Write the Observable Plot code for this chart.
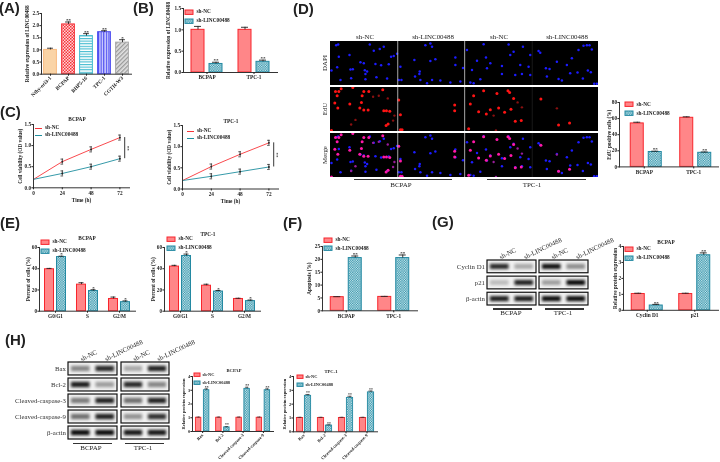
<!DOCTYPE html>
<html><head><meta charset="utf-8">
<script src="https://cdn.jsdelivr.net/npm/d3@7"></script>
<script src="https://cdn.jsdelivr.net/npm/@observablehq/plot@0.6"></script>
<style>
html,body{margin:0;background:#fff;}
#fig{position:relative;width:720px;height:462px;overflow:hidden;background:#fff;filter:blur(0.3px);}
#fig svg{overflow:visible;max-width:none;}
</style></head><body>
<svg width="0" height="0" style="position:absolute">
<defs>
<pattern id="tealCheck" width="2.4" height="2.4" patternUnits="userSpaceOnUse"><rect width="2.4" height="2.4" fill="#2b8ea6"/><rect width="1.2" height="1.2" fill="#d5eef2"/><rect x="1.2" y="1.2" width="1.2" height="1.2" fill="#d5eef2"/></pattern>
<pattern id="redCheck" width="3" height="3" patternUnits="userSpaceOnUse"><rect width="3" height="3" fill="#ffd6d6"/><rect width="1.5" height="1.5" fill="#f5333a"/><rect x="1.5" y="1.5" width="1.5" height="1.5" fill="#f5333a"/></pattern>
<pattern id="cyanH" width="3" height="2.6" patternUnits="userSpaceOnUse"><rect width="3" height="2.6" fill="#fff"/><rect width="3" height="1.1" fill="#45bcd0"/></pattern>
<pattern id="blueV" width="2.6" height="3" patternUnits="userSpaceOnUse"><rect width="2.6" height="3" fill="#d8d8ff"/><rect width="1.2" height="3" fill="#4a4af0"/></pattern>
<pattern id="grayD" width="3" height="3" patternUnits="userSpaceOnUse" patternTransform="rotate(45)"><rect width="3" height="3" fill="#e2e2e2"/><rect width="1.3" height="3" fill="#9a9a9a"/></pattern>
</defs></svg>
<div id="fig"></div>
<script>
const NC="sh-NC", KD="sh-LINC00488";
const SERIF="'Liberation Serif',serif", SANS="'Liberation Sans',sans-serif";
const redFill="#ff8688", redLine="#f8252c", tealLine="#2389a2";

// ---- Panel A
const aCats=["Nthy-ori3-1","BCPAP","BHP5-16","TPC-1","CGTH-W3"];
const aVals=[1.0,2.05,1.57,1.73,1.3];
const aErrs=[0.07,0.1,0.1,0.06,0.12];
const aStars=["","**","**","**","*"];
// ---- Panel B
const bCats=["BCPAP","TPC-1"];
const bNC=[1.0,1.0], bNCe=[0.08,0.06], bKD=[0.2,0.25], bKDe=[0.04,0.04];
// ---- Panel C
const cTimes=[0,24,48,72];
const c1NC=[0.2,0.62,0.91,1.19], c1KD=[0.2,0.34,0.5,0.69];
const c2NC=[0.2,0.53,0.82,1.09], c2KD=[0.2,0.3,0.41,0.52];
const cErr=[0,0.06,0.06,0.06];
// ---- Panel D chart
const dNC=[54,61], dNCe=[1.5,1.2], dKD=[18.5,17.5], dKDe=[1,1];
// ---- Panel E
const eCats=["G0/G1","S","G2/M"];
const e1NC=[39.5,25,11.5], e1NCe=[0.8,1.8,1.8], e1KD=[51,19,8.5], e1KDe=[0.8,1.2,1.2];
const e2NC=[42,24,11.5], e2NCe=[1.2,1.4,0.7], e2KD=[52,18.5,9.5], e2KDe=[1.8,1,1];
// ---- Panel F
const fNC=[5.3,5.4], fNCe=[0.2,0.2], fKD=[20.5,20.5], fKDe=[0.8,1.2];
// ---- Panel G
const gCats=["Cyclin D1","p21"];
const gNC=[1.02,1.02], gNCe=[0.05,0.05], gKD=[0.3,3.45], gKDe=[0.07,0.15];
// ---- Panel H
const hCats=["Bax","Bcl-2","Cleaved-caspase-3","Cleaved-caspase-9"];
const h1NC=[1,1,1,1], h1KD=[3.0,0.3,3.1,3.0], h1KDe=[0.1,0.05,0.12,0.1];
const h2NC=[1,1,1,1], h2KD=[2.6,0.45,2.45,2.85], h2KDe=[0.1,0.05,0.12,0.1];
const hNCe=[0.05,0.05,0.05,0.05];
// ---- Western blot band strengths, [left lane, right lane]
const gRows=["Cyclin D1","p21","β-actin"];
const gBlot1=[[0.85,0.3],[0.22,0.88],[0.9,0.9]];
const gBlot2=[[0.95,0.42],[0.35,0.98],[0.97,0.97]];
const hRows=["Bax","Bcl-2","Cleaved-caspase-3","Cleaved-caspase-9","β-actin"];
const hBlot1=[[0.45,0.85],[0.9,0.35],[0.5,0.88],[0.55,0.88],[0.97,0.97]];
const hBlot2=[[0.3,0.88],[0.85,0.45],[0.55,0.88],[0.4,0.82],[0.92,0.92]];
// ---- Panel D micrographs: cell positions in each field
const dapiCells=[[17,11],[23,9],[118,9],[130,28],[148,23],[160,16],[182,46],[190,44],[200,37],[57,41],[25,46],[90,63],[100,66],[20,78],[60,85],[67,84],[103,87],[110,91],[105,98],[135,68],[152,72],[175,69],[62,111],[30,116],[105,114],[170,112],[138,108],[3,88],
[300,6],[305,16],[285,11],[375,48],[315,54],[300,59],[252,56],[210,76],[268,91],[267,98],[254,106],[375,71],[398,80],[270,116],[305,116],[330,118],[290,126],[205,116],[213,116],[360,124],[390,121],
[410,26],[460,8],[535,9],[578,16],[550,31],[467,48],[440,58],[480,66],[425,86],[470,81],[515,74],[570,71],[595,76],[600,41],[555,101],[575,98],[600,101],[515,98],[450,114],[420,124],[430,126],[540,41],
[625,29],[630,34],[745,26],[760,13],[770,11],[778,11],[785,24],[680,61],[647,81],[658,83],[710,71],[720,96],[742,94],[773,88],[782,93],[685,113],[695,118],[758,112],[725,51],[800,128],[792,128],[650,106]];
const eduBright=[[15,12],[25,12],[32,4],[67,0],[20,25],[100,12],[115,12],[157,7],[95,25],[13,47],[93,45],[22,62],[58,50],[88,62],[100,68],[113,68],[160,70],[168,70],[178,72],[167,115],[173,110],[3,130],
[205,38],[210,82],[373,53],[373,70],[210,128],[215,128],
[460,10],[500,18],[533,10],[538,15],[430,25],[420,50],[550,33],[445,73],[480,67],[505,62],[523,75],[542,66],[468,80],[555,102],[573,100],[415,125],
[632,35],[685,113],[718,107]];
const eduDim=[[128,28],[172,33],[75,98],[62,112],[188,100],[192,85],[145,25],[562,45],[575,60],[490,85],[497,130],[680,63]];

const root=document.getElementById("fig");
function place(el,x,y){el.style.position="absolute";el.style.left=x+"px";el.style.top=y+"px";root.append(el);return el;}
function txt(s,x,y,o={}){
  const d=document.createElement("div");d.textContent=s;
  const a=o.anchor==="start"?"0":o.anchor==="end"?"-100%":"-50%";
  d.style.cssText=`white-space:nowrap;line-height:1;font-family:${o.font||SERIF};font-size:${o.size||5.3}px;font-weight:${o.weight||"bold"};color:${o.color||"#222"};transform:translate(${a},-50%) rotate(${o.rotate||0}deg)`;
  return place(d,x,y);
}
function hbar(x1,x2,y){
  const d=document.createElement("div");d.style.cssText=`width:${x2-x1}px;height:1.4px;background:#333`;
  return place(d,x1,y);
}
const NS="http://www.w3.org/2000/svg";
function swatch(x,y,w,h,fill,stroke){
  const s=document.createElementNS(NS,"svg");s.setAttribute("width",w+2);s.setAttribute("height",h+2);
  const r=document.createElementNS(NS,"rect");
  for(const [k,v] of Object.entries({x:1,y:1,width:w,height:h,fill,stroke,"stroke-width":1}))r.setAttribute(k,v);
  s.append(r);return place(s,x-1,y-h/2-1);
}
function legendBars(x,y1,y2,o={}){
  const w=o.w||8,h=o.h||4.4,tx=x+w+(o.gap||3.5),size=o.size||5.3;
  swatch(x,y1,w,h,redFill,redLine);txt(NC,tx,y1,{anchor:"start",size});
  swatch(x,y2,w,h,"url(#tealCheck)",tealLine);txt(KD,tx,y2,{anchor:"start",size});
}
const baseStyle=s=>({background:"transparent",fontFamily:SERIF,fontWeight:"bold",fontSize:(s||5.3)+"px",color:"#222",overflow:"visible"});

function barChart(c){
  const ml=34,mr=4,mt=14,mb=c.mb||12;
  const marks=[];
  const ins=c.ins, dxs=c.dxs;
  c.series.forEach((s,k)=>{
    const rows=c.cats.map((cat,i)=>({cat,v:s.values[i],top:s.values[i]+s.errs[i],star:s.stars?s.stars[i]:""}));
    const dx=dxs[k];
    if(s.fills){
      rows.forEach((r,i)=>marks.push(Plot.barY([r],{x:"cat",y:"v",dx,insetLeft:ins,insetRight:ins,fill:s.fills[i],stroke:s.strokes[i],strokeWidth:c.sw||1})));
    } else {
      marks.push(Plot.barY(rows,{x:"cat",y:"v",dx,insetLeft:ins,insetRight:ins,fill:s.fill,stroke:s.stroke,strokeWidth:c.sw||1}));
    }
    marks.push(Plot.ruleX(rows,{x:"cat",y1:"v",y2:"top",dx,stroke:"#222",strokeWidth:c.ew||0.9}));
    marks.push(Plot.tickY(rows,{x:"cat",y:"top",dx,insetLeft:ins+(c.cap||3),insetRight:ins+(c.cap||3),stroke:"#222",strokeWidth:c.ew||0.9}));
    marks.push(Plot.text(rows,{x:"cat",y:"top",text:"star",dx,dy:-1.5,fontSize:c.starSize||5,fill:"#222"}));
  });
  const p=Plot.plot({
    width:c.x1-c.x0+ml+mr,height:c.yBase-c.yTop+mt+mb,
    marginLeft:ml,marginRight:mr,marginTop:mt,marginBottom:mb,
    style:baseStyle(c.size),
    x:{domain:c.cats,padding:0,round:false,axis:null},
    y:{domain:[0,c.yMax],axis:null},
    marks:[
      ...marks,
      Plot.frame({anchor:"left",stroke:"#333",strokeWidth:1}),
      Plot.frame({anchor:"bottom",stroke:"#333",strokeWidth:1}),
      Plot.axisY({ticks:c.ticks,tickFormat:c.fmt||(d=>d),tickSize:1.6,tickPadding:0.8,label:c.yLabel,labelAnchor:"center",labelArrow:"none",labelOffset:c.labelOffset||13}),
      c.rot?Plot.axisX({tickSize:2,tickRotate:-45,tickPadding:1,label:null}):Plot.axisX({tickSize:2,tickPadding:1,label:null})
    ]
  });
  place(p,c.x0-ml,c.yTop-mt);
}
function pair(cats,a,ae,b,be,stars){
  return [{name:NC,values:a,errs:ae,fill:redFill,stroke:redLine},
          {name:KD,values:b,errs:be,fill:"url(#tealCheck)",stroke:tealLine,stars:cats.map((_,i)=>stars[i])}];
}
const f1=d3.format(".1f");
const dbl=n=>Array(n).fill("**");

// A
barChart({x0:41,x1:131,yTop:13.3,yBase:74,yMax:2.5,ticks:[0,0.5,1,1.5,2,2.5],fmt:f1,yLabel:"Relative expression of LINC00488",cats:aCats,mb:34,rot:true,ins:2.6,dxs:[0],cap:3.5,labelOffset:16,
 series:[{name:"v",values:aVals,errs:aErrs,stars:aStars,
  fills:["#fad4a6","url(#redCheck)","url(#cyanH)","url(#blueV)","url(#grayD)"],strokes:["#f9bb80","#f5333a","#45bcd0","#4a4af0","#a8a8a8"]}]});
// B
barChart({x0:183,x1:277,yTop:8,yBase:72,yMax:1.5,ticks:[0,0.5,1,1.5],fmt:f1,yLabel:"Relative expression of LINC00488",cats:bCats,ins:17,dxs:[-9,9],labelOffset:17,
 series:pair(bCats,bNC,bNCe,bKD,bKDe,dbl(2))});
legendBars(185,11.7,20.7);

// C
function lineChart(x0,x1,yTop,yBase,nc,kd,title,tx,ty,lx,ly1,ly2){
  const ml=30,mr=6,mt=8,mb=18;
  const rows=(vals,name)=>cTimes.map((t,i)=>({t,v:vals[i],lo:vals[i]-cErr[i],hi:vals[i]+cErr[i],name}));
  const a=rows(nc,NC),b=rows(kd,KD),all=[...a,...b].filter(d=>d.t>0);
  const last=[{t:76,y1:nc[3],y2:kd[3]}];
  const cap=k=>Plot.ruleY(all,{y:k,x1:d=>d.t-1.1,x2:d=>d.t+1.1,stroke:"#222",strokeWidth:0.7});
  const p=Plot.plot({
    width:x1-x0+ml+mr,height:yBase-yTop+mt+mb,marginLeft:ml,marginRight:mr,marginTop:mt,marginBottom:mb,
    style:baseStyle(5.3),
    x:{domain:[0,80],axis:null},y:{domain:[0,1.5],axis:null},
    marks:[
      Plot.line(a,{x:"t",y:"v",stroke:"#f8353a",strokeWidth:0.9}),
      Plot.line(b,{x:"t",y:"v",stroke:"#1f8f9f",strokeWidth:0.9}),
      Plot.ruleX(all,{x:"t",y1:"lo",y2:"hi",stroke:"#222",strokeWidth:0.8}),
      cap("hi"),cap("lo"),
      Plot.dot(all,{x:"t",y:"v",r:0.9,fill:"#222"}),
      Plot.ruleX(last,{x:"t",y1:"y1",y2:"y2",stroke:"#222",strokeWidth:0.9}),
      Plot.text(last,{x:"t",y:d=>(d.y1+d.y2)/2,text:()=>"**",rotate:90,dx:3,fontSize:5}),
      Plot.frame({anchor:"left",stroke:"#333"}),Plot.frame({anchor:"bottom",stroke:"#333"}),
      Plot.axisY({ticks:[0,0.5,1,1.5],tickFormat:f1,tickSize:1.6,tickPadding:0.8,label:"Cell viability (OD value)",labelAnchor:"center",labelArrow:"none",labelOffset:15}),
      Plot.axisX({ticks:cTimes,tickSize:2,tickPadding:1.5,label:"Time (h)",labelAnchor:"center",labelArrow:"none",labelOffset:14,tickFormat:d=>d})
    ]
  });
  place(p,x0-ml,yTop-mt);
  txt(title,tx,ty);
  [[ly1,"#f8353a",NC],[ly2,"#1f8f9f",KD]].forEach(([y,col,n])=>{
    const d=document.createElement("div");d.style.cssText=`width:7px;height:0.9px;background:${col}`;
    place(d,lx,y);txt(n,lx+10,y,{anchor:"start"});
  });
}
lineChart(33,129,124,187.3,c1NC,c1KD,"BCPAP",77,119.5,35,128.3,135);
lineChart(182,278,124.5,188,c2NC,c2KD,"TPC-1",231,122,187,130.7,138);

// D micrographs
function field(y0,y1,layers){
  const p=Plot.plot({
    width:268,height:y1-y0,margin:0,style:{background:"black",overflow:"hidden"},
    x:{domain:[0,805],axis:null},y:{domain:[0,133],range:[0,y1-y0],axis:null},
    marks:[
      ...layers.map(([cells,col,r])=>Plot.dot(cells,{x:d=>d[0],y:d=>d[1],r:r||1.25,fill:col,imageFilter:"blur(0.3px)"})),
      Plot.ruleX([202,403],{stroke:"#bbb",strokeWidth:0.9}),
      Plot.ruleX([606],{stroke:"#333",strokeWidth:0.5})
    ]
  });
  place(p,330,y0);
}
field(41,85,[[dapiCells,"#1c1cff"]]);
field(87,131,[[eduBright,"#ff1414",1.5],[eduDim,"#8a1010",1.2]]);
field(132.5,177,[[dapiCells,"#1c1cff"],[eduBright,"#ff18a8",1.5],[eduDim,"#9a1c9a",1.2]]);
[[NC,365],[KD,433],[NC,499],[KD,567]].forEach(([s,x])=>txt(s,x,37,{size:6.9,weight:"normal"}));
[["DAPI",63],["EdU",109],["Merge",155]].forEach(([s,y])=>txt(s,325,y,{size:6.9,weight:"normal",rotate:-90}));
hbar(354,452,179);hbar(487,586,179);
txt("BCPAP",401,184.5,{size:7,weight:"normal"});txt("TPC-1",532,184.5,{size:7,weight:"normal"});
// D chart
barChart({x0:619,x1:718,yTop:101.6,yBase:166,yMax:80,ticks:[0,20,40,60,80],yLabel:"EdU positive cells (%)",cats:bCats,ins:18.25,dxs:[-7,11],labelOffset:12,
 series:pair(bCats,dNC,dNCe,dKD,dKDe,dbl(2))});
legendBars(625,104.5,113.5);

// E
barChart({x0:39,x1:135,yTop:247,yBase:310.7,yMax:60,ticks:[0,20,40,60],yLabel:"Percent of cells (%)",cats:eCats,ins:11.5,dxs:[-6,6],cap:2,labelOffset:13,
 series:pair(eCats,e1NC,e1NCe,e1KD,e1KDe,["*","*","*"])});
legendBars(41,242,250.7);txt("BCPAP",87,239);
barChart({x0:164,x1:260,yTop:247,yBase:310.7,yMax:60,ticks:[0,20,40,60],yLabel:"Percent of cells (%)",cats:eCats,ins:11.5,dxs:[-6,6],cap:2,labelOffset:13,
 series:pair(eCats,e2NC,e2NCe,e2KD,e2KDe,["*","*","*"])});
legendBars(167,238.7,247.7);txt("TPC-1",208,235);
// F
barChart({x0:322,x1:417,yTop:245.7,yBase:310,yMax:25,ticks:[0,5,10,15,20,25],yLabel:"Apoptosis (%)",cats:bCats,ins:17.25,dxs:[-9,9],labelOffset:15,
 series:pair(bCats,fNC,fNCe,fKD,fKDe,dbl(2))});
legendBars(324,240,248.5);

// Blots
function blot(x0,x1,y0,y1,rows,bands,pad,showRows){
  const fs=6.8,ml=showRows?70:1,mr=1,mt=30,mb=1;
  const cells=rows.flatMap((r,i)=>[0,1].map(l=>({row:r,lane:l,s:bands[i][l]})));
  const p=Plot.plot({
    width:x1-x0+ml+mr,height:y1-y0+mt+mb,marginLeft:ml,marginRight:mr,marginTop:mt,marginBottom:mb,
    style:{background:"transparent",fontFamily:SERIF,fontSize:fs+"px",color:"#333",overflow:"visible"},
    x:{domain:[0,2],axis:null},
    y:{domain:rows,paddingInner:pad,paddingOuter:0,round:false,axis:null},
    marks:[
      Plot.barX(rows,{x1:()=>0,x2:()=>2,y:d=>d,fill:"#f2f2f2"}),
      Plot.barX(cells,{x1:d=>d.lane+0.12,x2:d=>d.lane+0.88,y:"row",fill:"#000",fillOpacity:"s",insetTop:3.8,insetBottom:3.8,imageFilter:"blur(1.4px)"}),
      Plot.barX(rows,{x1:()=>0,x2:()=>2,y:d=>d,fill:"none",stroke:"#111",strokeWidth:1.2}),
      ...(showRows?[Plot.axisY({tickSize:0,tickPadding:2.5,label:null,fontWeight:"normal"})]:[]),
      Plot.axisX({anchor:"top",ticks:[0.5,1.5],tickFormat:d=>d<1?NC:KD,tickSize:0,tickRotate:-26,tickPadding:3,label:null})
    ]
  });
  place(p,x0-ml,y0-mt);
}
blot(487,536,260,305,gRows,gBlot1,0.21,true);
blot(539,588,260,305,gRows,gBlot2,0.21,false);
barChart({x0:623,x1:718,yTop:245.7,yBase:309.5,yMax:4,ticks:[0,1,2,3,4],yLabel:"Relative protein expression",cats:gCats,ins:17.25,dxs:[-9,9],labelOffset:10,
 series:pair(gCats,gNC,gNCe,gKD,gKDe,dbl(2))});
legendBars(625,249,258);txt("BCPAP",666,242.5);
hbar(493,532,308.4);hbar(545,584,308.4);
txt("BCPAP",511,313,{size:7,weight:"normal"});txt("TPC-1",563,313,{size:7,weight:"normal"});

blot(68,117,362,439,hRows,hBlot1,0.19,true);
blot(121,169,362,439,hRows,hBlot2,0.19,false);
hbar(73,112,442.5);hbar(125,164,442.5);
txt("BCPAP",91,447.5,{size:7,weight:"normal"});txt("TPC-1",143,447.5,{size:7,weight:"normal"});

const hOpts={yMax:4,ticks:[0,1,2,3,4],yLabel:"Relative protein expression",cats:hCats,ins:7.4,dxs:[-4,4],mb:36,rot:true,size:4.4,cap:1,sw:0.9,ew:0.7,starSize:3.8,labelOffset:11};
barChart({...hOpts,x0:192,x1:273,yTop:376,yBase:431,series:pair(hCats,h1NC,hNCe,h1KD,h1KDe,dbl(4))});
legendBars(194,375,382.5,{w:6,h:3.4,size:4.4,gap:2.5});txt("BCPAP",234,371,{size:4.6});
barChart({...hOpts,x0:293,x1:377,yTop:375.7,yBase:431,series:pair(hCats,h2NC,hNCe,h2KD,h2KDe,dbl(4))});
legendBars(297,377,385,{w:6,h:3.4,size:4.4,gap:2.5});txt("TPC-1",331,372,{size:4.6});

// Panel letters
[["(A)",-1,7],["(B)",133,7],["(C)",0,111],["(D)",293,7.5],["(E)",0,222],["(F)",283,222],["(G)",432,221],["(H)",5,339]]
 .forEach(([s,x,y])=>txt(s,x,y,{font:SANS,size:15,anchor:"start",color:"#222"}));
</script></body></html>
